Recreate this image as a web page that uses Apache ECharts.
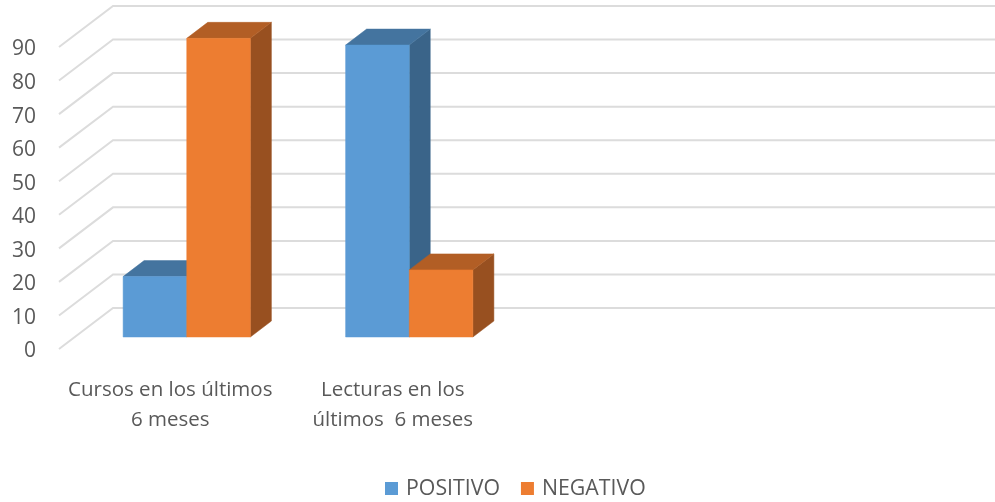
<!DOCTYPE html>
<html><head><meta charset="utf-8">
<style>html,body{margin:0;padding:0;background:#fff}#c{width:995px;height:502px}</style>
<script src="https://cdn.jsdelivr.net/npm/echarts@6/dist/echarts.min.js"></script>
</head><body><div id="c"></div>
<script>
const categories = ['Cursos en los últimos\n6 meses', 'Lecturas en los\núltimos  6 meses', '', ''];
const positivo = [18, 87];
const negativo = [89, 20];
const gridValues = [0, 10, 20, 30, 40, 50, 60, 70, 80, 90];

const WALL = [54, -41];      // projection of the full chart depth
const PLANE = [16.5, -12];   // where the bars stand within the depth
const DEPTH = [21, -16];     // the depth of a bar
const BAR_RATIO = 0.286;

function poly(points, fill) {
  return { type: 'polygon', shape: { points }, style: { fill, stroke: fill, lineWidth: 0.5 }, silent: true };
}
function barRender(front, top, side, slot) {
  return function (params, api) {
    const base = api.coord([api.value(0), 0]);
    const head = api.coord([api.value(0), api.value(1)]);
    const w = api.size([1, 0])[0] * BAR_RATIO;
    const x0 = base[0] + PLANE[0] + slot * w, x1 = x0 + w;
    const yB = base[1] + PLANE[1], yT = head[1] + PLANE[1];
    const dx = DEPTH[0], dy = DEPTH[1];
    return { type: 'group', children: [
      poly([[x1, yB], [x1 + dx, yB + dy], [x1 + dx, yT + dy], [x1, yT]], side),
      poly([[x0, yT], [x1, yT], [x1 + dx, yT + dy], [x0 + dx, yT + dy]], top),
      poly([[x0, yB], [x1, yB], [x1, yT], [x0, yT]], front)
    ] };
  };
}
function wallRender(params, api) {
  const p = api.coord([0, api.value(1)]);
  const left = params.coordSys.x;
  const sty = { stroke: '#dcdcdc', lineWidth: 2, fill: null };
  return { type: 'group', silent: true, children: [
    { type: 'polyline', shape: { points: [[left, p[1]], [left + WALL[0], p[1] + WALL[1]], [api.getWidth() + 10, p[1] + WALL[1]]] }, style: sty }
  ] };
}

const chart = echarts.init(document.getElementById('c'), null, { renderer: 'canvas' });
const FONT = 'Open Sans';
chart.setOption({
  animation: false,
  backgroundColor: '#ffffff',
  grid: { left: 59, right: 46, top: 47, bottom: 153 },
  legend: {
    data: ['POSITIVO', 'NEGATIVO'],
    left: 385, top: 478, padding: 0, itemWidth: 13, itemHeight: 13, itemGap: 21, icon: 'rect',
    textStyle: { fontFamily: FONT, fontSize: 21.3, color: '#595959', padding: [2, 0, 0, 3] }
  },
  xAxis: {
    type: 'category', data: categories,
    axisLine: { show: false }, axisTick: { show: false }, splitLine: { show: false },
    axisLabel: { interval: 0, margin: 26, fontFamily: FONT, fontSize: 20.5, lineHeight: 30, color: '#595959' }
  },
  yAxis: {
    type: 'value', min: 0, max: 90, interval: 10,
    axisLine: { show: false }, axisTick: { show: false }, splitLine: { show: false },
    axisLabel: { margin: 23, fontFamily: FONT, fontSize: 21, color: '#595959', verticalAlign: 'top', lineHeight: 5 }
  },
  series: [
    { name: 'walls', type: 'custom', renderItem: wallRender, silent: true, clip: false,
      data: gridValues.map(v => [0, v]), z: 1 },
    { name: 'POSITIVO', type: 'custom', renderItem: barRender('#5B9BD5', '#44749F', '#3A6489', -1), clip: false,
      itemStyle: { color: '#5B9BD5' }, data: positivo.map((v, i) => [i, v]), z: 2 },
    { name: 'NEGATIVO', type: 'custom', renderItem: barRender('#ED7D31', '#B25E25', '#985020', 0), clip: false,
      itemStyle: { color: '#ED7D31' }, data: negativo.map((v, i) => [i, v]), z: 3 }
  ]
});
</script></body></html>
